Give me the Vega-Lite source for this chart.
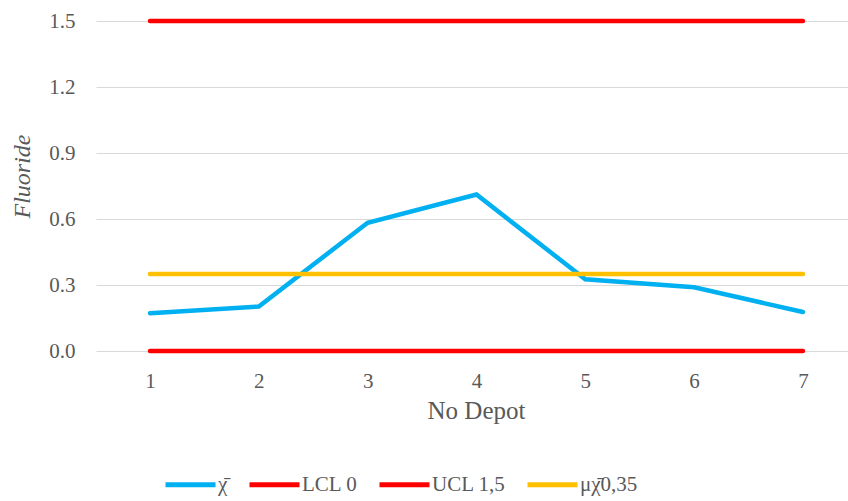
{
  "$schema": "https://vega.github.io/schema/vega-lite/v6.json",
  "autosize": "none",
  "width": 752,
  "height": 330,
  "padding": {"left": 96, "top": 21, "right": 0, "bottom": 150},
  "background": "white",
  "data": {
    "values": [
      {"series": "χ̄", "depot": 1, "fluoride": 0.172},
      {"series": "χ̄", "depot": 2, "fluoride": 0.202},
      {"series": "χ̄", "depot": 3, "fluoride": 0.583},
      {"series": "χ̄", "depot": 4, "fluoride": 0.711},
      {"series": "χ̄", "depot": 5, "fluoride": 0.326},
      {"series": "χ̄", "depot": 6, "fluoride": 0.29},
      {"series": "χ̄", "depot": 7, "fluoride": 0.177},
      {"series": "LCL 0", "depot": 1, "fluoride": 0},
      {"series": "LCL 0", "depot": 2, "fluoride": 0},
      {"series": "LCL 0", "depot": 3, "fluoride": 0},
      {"series": "LCL 0", "depot": 4, "fluoride": 0},
      {"series": "LCL 0", "depot": 5, "fluoride": 0},
      {"series": "LCL 0", "depot": 6, "fluoride": 0},
      {"series": "LCL 0", "depot": 7, "fluoride": 0},
      {"series": "UCL 1,5", "depot": 1, "fluoride": 1.5},
      {"series": "UCL 1,5", "depot": 2, "fluoride": 1.5},
      {"series": "UCL 1,5", "depot": 3, "fluoride": 1.5},
      {"series": "UCL 1,5", "depot": 4, "fluoride": 1.5},
      {"series": "UCL 1,5", "depot": 5, "fluoride": 1.5},
      {"series": "UCL 1,5", "depot": 6, "fluoride": 1.5},
      {"series": "UCL 1,5", "depot": 7, "fluoride": 1.5},
      {"series": "μχ̄0,35", "depot": 1, "fluoride": 0.35},
      {"series": "μχ̄0,35", "depot": 2, "fluoride": 0.35},
      {"series": "μχ̄0,35", "depot": 3, "fluoride": 0.35},
      {"series": "μχ̄0,35", "depot": 4, "fluoride": 0.35},
      {"series": "μχ̄0,35", "depot": 5, "fluoride": 0.35},
      {"series": "μχ̄0,35", "depot": 6, "fluoride": 0.35},
      {"series": "μχ̄0,35", "depot": 7, "fluoride": 0.35}
    ]
  },
  "mark": {"type": "line", "strokeWidth": 4.5, "strokeCap": "round", "strokeJoin": "miter"},
  "encoding": {
    "x": {
      "field": "depot",
      "type": "quantitative",
      "scale": {"domain": [0.504, 7.414], "nice": false, "zero": false},
      "axis": {
        "title": "No Depot",
        "values": [1, 2, 3, 4, 5, 6, 7],
        "format": "d",
        "grid": false,
        "domain": false,
        "ticks": false,
        "labelPadding": 19,
        "labelFont": "Liberation Serif",
        "labelFontSize": 21,
        "labelColor": "#595959",
        "titleFont": "Liberation Serif",
        "titleFontSize": 25,
        "titleFontWeight": "normal",
        "titleColor": "#595959",
        "titleX": 380,
        "titleY": 47,
        "titleBaseline": "top"
      }
    },
    "y": {
      "field": "fluoride",
      "type": "quantitative",
      "scale": {"domain": [0, 1.5], "nice": false},
      "axis": {
        "title": "Fluoride",
        "values": [0, 0.3, 0.6, 0.9, 1.2, 1.5],
        "format": ".1f",
        "grid": true,
        "gridColor": "#D9D9D9",
        "gridWidth": 1.2,
        "domain": false,
        "ticks": false,
        "labelPadding": 21,
        "labelFont": "Liberation Serif",
        "labelFontSize": 21,
        "labelColor": "#595959",
        "titleFont": "Liberation Serif",
        "titleFontSize": 24,
        "titleFontStyle": "italic",
        "titleFontWeight": "normal",
        "titleColor": "#595959",
        "titleX": -62,
        "titleY": 155,
        "titleAngle": -90,
        "titleBaseline": "bottom"
      }
    },
    "color": {
      "field": "series",
      "type": "nominal",
      "sort": null,
      "scale": {
        "domain": ["χ̄", "LCL 0", "UCL 1,5", "μχ̄0,35"],
        "range": ["#00B0F0", "#FF0000", "#FF0000", "#FFC000"]
      },
      "legend": {
        "title": null,
        "orient": "none",
        "direction": "horizontal",
        "legendX": 67,
        "legendY": 436,
        "padding": 0,
        "symbolType": "stroke",
        "symbolSize": 2500,
        "symbolStrokeWidth": 5,
        "labelOffset": 0,
        "columnPadding": 11,
        "labelFont": "Liberation Serif",
        "labelFontSize": 21,
        "labelColor": "#595959"
      }
    }
  },
  "config": {"view": {"stroke": null}}
}
